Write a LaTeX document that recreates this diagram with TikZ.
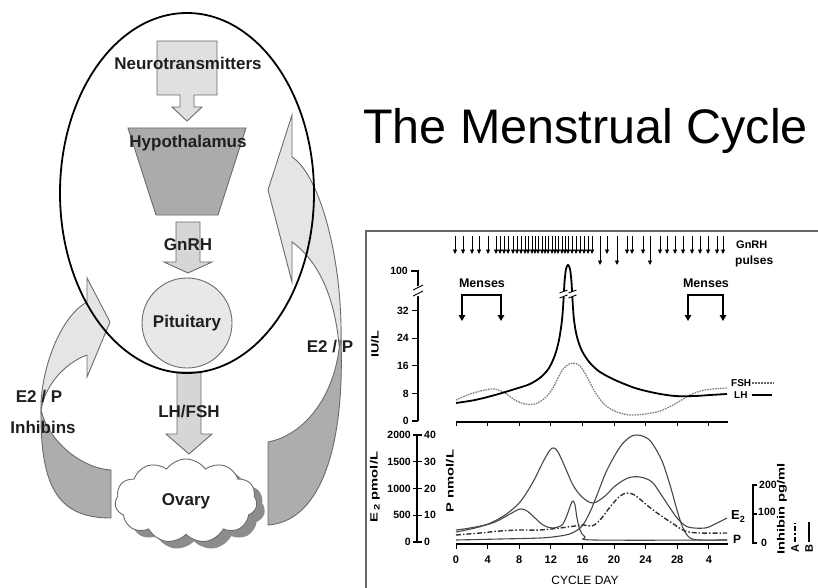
\documentclass[tikz,border=0pt]{standalone}
\usepackage{fontspec}
\setmainfont{Liberation Sans}
\usetikzlibrary{shapes.symbols,arrows.meta}
\newcommand\fsz[1]{\fontsize{#1}{#1}\selectfont}
\newcommand\sxx[2]{\scalebox{#1}[1]{#2}}
\begin{document}
\begin{tikzpicture}[x=1pt,y=-1pt,
  outl/.style={draw=black!58, line width=0.9pt},
  lab/.style={font=\fsz{17}\bfseries, text=black!88, inner sep=0},
  ax/.style={line width=1.4pt, black},
  crv/.style={line width=1.1pt, black!72},
  tk/.style={font=\fsz{10.5}\bfseries, inner sep=0},
  ctxt/.style={font=\fsz{11}\bfseries, inner sep=0},
  pulse/.style={line width=0.7pt, -{Triangle[length=4.5pt,width=4pt]}},
  menarr/.style={line width=1.4pt, {Triangle[length=6pt,width=6.5pt]}-{Triangle[length=6pt,width=6.5pt]}},
  cloudy/.style={cloud, cloud puffs=11, cloud puff arc=110, aspect=1.75, minimum width=142pt, minimum height=84pt, inner sep=0},
  ]
\useasboundingbox (0,0) rectangle (818,588);
\fill[white] (0,0) rectangle (818,588);

% ---------- feedback arrows ----------
\filldraw[outl, fill=black!10] (41,410) .. controls (40,375) and (58,318) .. (87,302) -- (87,278) -- (110,322) -- (87,377) -- (87,355) .. controls (65,363) and (45,385) .. (41,410) -- cycle;
\filldraw[outl, fill=black!32] (41,410) .. controls (40,490) and (60,518) .. (111,518) -- (111,470) .. controls (80,468) and (48,440) .. (41,410) -- cycle;

\filldraw[outl, fill=black!10] (339,345) .. controls (335,300) and (320,262) .. (292,242) -- (292,282) -- (268,190) -- (292,115) -- (292,157) .. controls (320,175) and (343,260) .. (341,345) -- cycle;
\filldraw[outl, fill=black!32] (340,340) .. controls (336,395) and (305,435) .. (268,442) -- (268,525) .. controls (315,522) and (345,460) .. (341,340) -- cycle;

% ---------- central axis ----------
\filldraw[outl, fill=black!12] (157,41) -- (217,41) -- (217,95) -- (194,95) -- (194,107) -- (202,107) -- (187,121) -- (172,107) -- (180,107) -- (180,95) -- (157,95) -- cycle;
\filldraw[outl, fill=black!33] (128,128) -- (246,128) -- (218,215) -- (156,215) -- cycle;
\filldraw[outl, fill=black!16] (176,222) -- (200,222) -- (200,262) -- (212,262) -- (188,273) -- (164,262) -- (176,262) -- cycle;
\filldraw[outl, fill=black!16] (177,372) -- (201,372) -- (201,434) -- (212,434) -- (189,454) -- (166,434) -- (177,434) -- cycle;
\node[circle, outl, fill=black!9, minimum size=90pt, inner sep=0, font=\fsz{17}\bfseries, text=black!88] (pit) at (187,323) {Pituitary};

\draw[line width=1.8pt] (187,193) ellipse [x radius=127, y radius=180];

\node[cloudy, fill=black!45] (ovsh) at (194,508) {};
\node[cloudy, fill=white, outl, font=\fsz{17}\bfseries, text=black!88] (ovary) at (186,501) {Ovary};

\node[lab] (tneuro) at (188,63) {Neurotransmitters};
\node[lab] (thypo) at (188,143) {Hypothalamus};
\node[lab] (tgnrh) at (188,245) {GnRH};
\node[lab] (tlhfsh) at (189,412) {LH/FSH};
\node[lab] (te2l) at (39,397) {E2 / P};
\node[lab] (tinh) at (43,427) {Inhibins};
\node[lab] (te2r) at (330,347) {E2 / P};

% ---------- title ----------
\node[font=\fsz{48.5}, anchor=base west, inner sep=0] (title) at (363,144) {The Menstrual Cycle};

% ---------- chart frame ----------
\draw[black!60, line width=1.3pt] (818,231) -- (366,231) -- (366,588);

% GnRH pulses
\foreach \x in {455,463,472,479,488,496,500,504,508,513,517,521,525,528,532,535,538,542,545,548,552,555,558,562,565,568,572,576,580,584,588,592,607,627,632,643,660,667,675,683,692,700,708,717,723}
  \draw[pulse] (\x,236) -- (\x,254);
\foreach \x in {600,617,650}
  \draw[pulse] (\x,236) -- (\x,265);
\node[ctxt, anchor=west] (gp1) at (736,245) {GnRH};
\node[ctxt, anchor=west, font=\fsz{12}\bfseries] (gp2) at (735,261) {pulses};

% Menses
\node[font=\fsz{12.5}\bfseries, inner sep=0] (men1) at (482,283) {Menses};
\node[font=\fsz{12.5}\bfseries, inner sep=0] (men2) at (706,283) {Menses};
\coordinate (m1a) at (462,321); \coordinate (m1b) at (501,321);
\coordinate (m2a) at (688,321); \coordinate (m2b) at (723,321);
\draw[menarr] (m1a) |- (482,295) -| (m1b);
\draw[menarr] (m2a) |- (706,295) -| (m2b);

% top chart axes
\draw[ax] (411,271) -- (418,271) -- (418,421);
\foreach \v/\t in {0/0,8/8,16/16,24/24,32/32}{
  \draw[ax, line width=1.2pt] (412,{421-3.45*\v}) -- (418,{421-3.45*\v});
  \node[tk, anchor=east] at (409,{421-3.45*\v}) {\t};
}
\node[tk, anchor=east] (l100) at (408,271) {100};
\fill[white] (414,288) -- (422,284) -- (422,294) -- (414,298) -- cycle;
\draw[line width=0.9pt] (413,290) -- (423,285);
\draw[line width=0.9pt] (413,296) -- (423,291);
\node[font=\fsz{10.5}\bfseries, rotate=90, inner sep=0] (iul) at (375,344) {\sxx{1.35}{IU/L}};
\draw[ax] (456,422) -- (728,422);
\foreach \d in {0,4,...,32} \draw[line width=1pt] ({456+7.9*\d},422) -- ({456+7.9*\d},426);

% FSH & LH
\draw[black!50, line width=1.3pt, dash pattern=on 1.6pt off 1pt] plot[smooth, tension=0.55] coordinates {
 (456,400) (470,394) (485,390) (495,389) (505,393) (515,400) (525,404) (535,404) (545,398) (553,388) (560,374) (566,366) (573,363) (580,366) (587,377) (595,392) (605,405) (617,412) (630,415) (645,414) (660,411) (675,404) (690,395) (705,390) (727,388)};
\draw[black, line width=1.8pt] plot[smooth, tension=0.5] coordinates {
 (456,403) (475,400) (495,395) (515,389) (530,384) (541,377) (549,368) (555,355) (559,340) (562,320) (563.5,300) (564.5,282) (566,269) (568,265) (570,269) (571.5,282) (572.5,300) (574,320) (577,337) (582,351) (590,363) (600,372) (615,380) (635,388) (655,393) (675,396) (695,396) (710,395) (727,394)};
\foreach \bx in {563.5,572.5}{
  \fill[white] ({\bx-4},292) rectangle ({\bx+4},297);
  \draw[line width=0.9pt] ({\bx-4},293) -- ({\bx+4},290);
  \draw[line width=0.9pt] ({\bx-4},298) -- ({\bx+4},295);
}
\node[font=\fsz{10}\bfseries, anchor=west, inner sep=0] (lfsh) at (731,383) {FSH};
\node[font=\fsz{10}\bfseries, anchor=west, inner sep=0] (llh) at (734,395) {LH};
\draw[black!60, line width=1.1pt, dash pattern=on 2pt off 1pt] (lfsh.east) ++(1,0) -- ++(22,0);
\draw[black, line width=1.6pt] (llh.east) ++(4,0) -- ++(20,0);

% bottom chart axes
\draw[ax] (417,435) -- (417,542);
\foreach \e/\p in {0/0,500/10,1000/20,1500/30,2000/40}{
  \draw[ax, line width=1.2pt] (413,{542-0.0535*\e}) -- (422,{542-0.0535*\e});
  \node[tk, anchor=east] at (411,{542-0.0535*\e}) {\e};
  \node[tk, anchor=west] at (424,{542-0.0535*\e}) {\p};
}
\node[font=\fsz{10.5}\bfseries, rotate=90, inner sep=0] (le2) at (375,487) {\sxx{1.4}{E\raisebox{-2pt}{\fsz{8}\,2} pmol/L}};
\node[font=\fsz{10.5}\bfseries, rotate=90, inner sep=0] (lp) at (450,481) {\sxx{1.4}{P nmol/L}};
\draw[ax, line width=2.4pt] (456,544) -- (728,544);
\foreach \d/\t in {0/0,4/4,8/8,12/12,16/16,20/20,24/24,28/28,32/4}{
  \draw[line width=1pt] ({456+7.9*\d},545) -- ({456+7.9*\d},549);
  \node[tk, font=\fsz{11}\bfseries] at ({456+7.9*\d},560) {\t};
}
\node[font=\fsz{12}, inner sep=0] (cday) at (585,580) {CYCLE DAY};

% bottom curves
\draw[crv] plot[smooth, tension=0.55] coordinates {
 (456,540) (500,539) (540,538) (560,536) (572,533) (582,526) (590,512) (597,495) (607,470) (620,447) (630,437) (637,435) (645,437) (652,443) (662,461) (670,485) (677,510) (683,528) (690,538) (700,540) (727,540)};
\draw[crv] plot[smooth, tension=0.55] coordinates {
 (456,530) (470,528) (488,524) (505,515) (520,502) (533,482) (543,462) (550,450) (554,448) (558,452) (565,467) (573,485) (582,497) (593,503) (605,496) (615,486) (628,478) (640,477) (652,482) (662,496) (670,508) (678,519) (688,527) (705,528) (715,524) (727,518)};
\draw[crv] plot[smooth, tension=0.55] coordinates {
 (456,532) (475,528) (495,522) (510,514) (520,509) (527,511) (535,518) (543,525) (552,528) (562,525) (567,515) (571,504) (573,501) (575,505) (577,518) (580,530) (585,537) (595,540) (727,540)};
\draw[black!80, line width=1.4pt, dash pattern=on 5pt off 2pt on 1.5pt off 2pt] plot[smooth, tension=0.55] coordinates {
 (456,535) (480,533) (500,531) (520,530) (540,530) (560,528) (575,526) (584,525) (592,526) (600,520) (610,507) (620,496) (628,493) (636,496) (648,506) (660,515) (672,523) (685,531) (700,533) (727,533)};
\node[font=\fsz{13}\bfseries, anchor=west, inner sep=0] (le2r) at (731,517) {E\raisebox{-3pt}{\fsz{9}2}};
\node[font=\fsz{12}\bfseries, anchor=west, inner sep=0] (lpr) at (733,539) {P};

% inhibin axis
\draw[line width=1.2pt] (757,485) -- (753,485) -- (753,543) -- (757,543);
\draw[line width=1.2pt] (753,514) -- (757,514);
\node[tk, anchor=west] (i200) at (759,485) {200};
\node[tk, anchor=west] (i100) at (758,512) {100};
\node[tk, anchor=west] (i0) at (761,543) {0};
\node[font=\fsz{10.5}\bfseries, rotate=90, inner sep=0] (linh) at (782,509) {\sxx{1.4}{Inhibin pg/ml}};
\node[font=\fsz{11}\bfseries, rotate=90, inner sep=0] (la) at (795,549) {A};
\node[font=\fsz{11}\bfseries, rotate=90, inner sep=0] (lb) at (809,549) {B};
\draw[line width=1.2pt, dash pattern=on 5pt off 2pt on 1.5pt off 2pt] (la.east) ++(0,-3) -- ++(0,-20);
\draw[line width=1.2pt] (lb.east) ++(0,-3) -- ++(0,-20);
\end{tikzpicture}
\end{document}
